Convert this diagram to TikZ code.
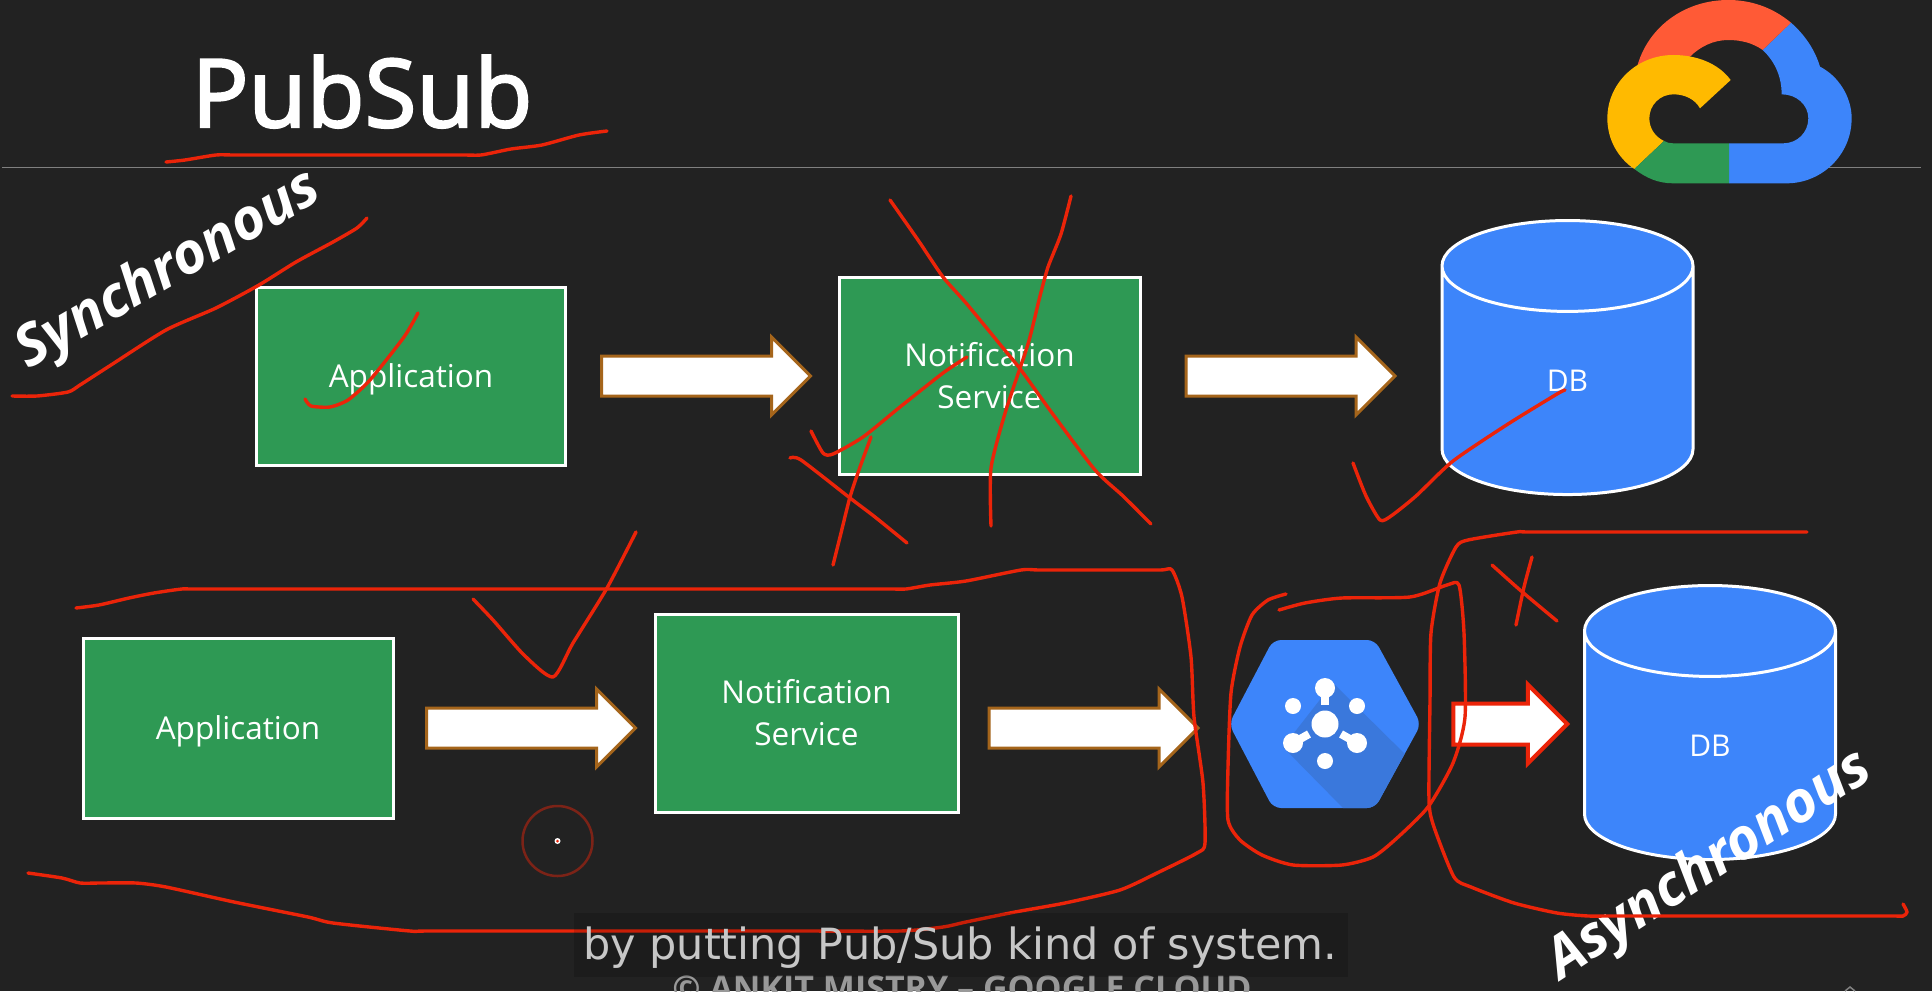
\documentclass[tikz,border=0pt]{standalone}
\usepackage{fontspec}
\setmainfont{Open Sans}
\newfontfamily\capfont{DejaVu Sans}
\newfontfamily\titlefont[FakeBold=2.5]{Open Sans}
\usetikzlibrary{shapes,arrows}

\definecolor{slidebg}{HTML}{222222}
\definecolor{boxgreen}{HTML}{2E9954}
\definecolor{dbblue}{HTML}{3D85FA}
\definecolor{shadeblue}{HTML}{3A78DC}
\definecolor{arrowbrown}{HTML}{A5651B}
\definecolor{inkred}{HTML}{EB2409}
\definecolor{logored}{HTML}{FF5A36}
\definecolor{logoyellow}{HTML}{FFBA00}

\begin{document}
\begin{tikzpicture}[x=1pt,y=-1pt,node distance=100pt,
  service/.style={rectangle, draw=white, line width=3pt, fill=boxgreen, text=white, inner sep=0pt, text centered, anchor=center, font=\fontsize{31.5}{42}\selectfont},
  store/.style={cylinder, shape border rotate=90, draw=white, line width=3pt, cylinder uses custom fill, cylinder body fill=dbblue, cylinder end fill=dbblue, text=white, inner sep=0pt, minimum width=251pt, minimum height=274pt, aspect=2.2, anchor=center, font=\fontsize{30}{34}\selectfont},
  flow/.style={single arrow, draw=arrowbrown, line width=3pt, fill=white, inner xsep=0pt, inner ysep=18.5pt, single arrow head extend=19pt, single arrow tip angle=90, single arrow head indent=0pt, anchor=center},
  line/.style={draw=inkred, line width=3.4pt, line join=round, line cap=round},
  slant/.style={text=white, inner sep=0pt, font=\fontsize{57}{60}\selectfont\bfseries\itshape}]
\useasboundingbox (0,0) rectangle (1932,991);
\fill [slidebg] (0,0) rectangle (1932,991);
\clip (0,0) rectangle (1932,991);

\draw [gray, line width=1pt] (2,167) -- (1921,167);
\node [text=white, inner sep=0pt, anchor=base, font=\titlefont\fontsize{94.5}{98}\selectfont] (title) at (362,127) {PubSub};

% logo
\begin{scope}[shift={(1590,0)},x=0.3333pt,y=-0.3333pt]
  \fill [dbblue] (603,68) .. controls (645,105) and (675,150) .. (690,200) .. controls (745,228) and (785,290) .. (785,355) .. controls (785,465) and (695,550) .. (590,550) -- (417,550) -- (417,430) -- (580,430) .. controls (622,430) and (655,397) .. (655,355) .. controls (655,315) and (620,283) .. (575,283) .. controls (575,230) and (555,185) .. (518,150) -- cycle;
  \fill [logored] (603,68) .. controls (545,20) and (480,0) .. (415,0) .. controls (280,0) and (170,85) .. (140,205) -- (300,170) .. controls (330,140) and (370,120) .. (415,120) .. controls (455,120) and (490,130) .. (518,150) -- cycle;
  \fill [logoyellow] (422,240) .. controls (385,190) and (320,165) .. (250,165) .. controls (140,165) and (52,250) .. (52,355) .. controls (52,420) and (85,475) .. (133,507) -- (222,423) .. controls (195,410) and (178,385) .. (178,355) .. controls (178,315) and (210,283) .. (250,283) .. controls (285,283) and (315,298) .. (330,325) -- cycle;
  \fill [boxgreen] (133,507) .. controls (170,535) and (205,550) .. (250,550) -- (417,550) -- (417,430) -- (250,430) .. controls (240,430) and (230,428) .. (222,423) -- cycle;
\end{scope}

% upper row
\node [service, text depth=0pt, minimum width=309pt, minimum height=178pt] (APPA) at (411,376) {Application};
\node [flow, right of=APPA, xshift=185pt, minimum height=209pt] (FLA) {};
\node [service, right of=APPA, xshift=478.5pt, minimum width=301pt, minimum height=197pt, text width=280pt] (NSA) {Notification \\ Service};
\node [flow, right of=NSA, xshift=191pt, minimum height=209pt] (FLB) {};
\node [store, right of=NSA, xshift=478pt, yshift=-5pt] (DBA) {DB};

% lower row
\node [service, text depth=0pt, minimum width=310pt, minimum height=180pt] (APPB) at (238,728) {Application};
\node [flow, right of=APPB, xshift=183pt, minimum height=209pt] (FLC) {};
\node [service, right of=APPB, xshift=468.5pt, yshift=15pt, minimum width=303pt, minimum height=198pt, text width=280pt] (NSB) {Notification \\ Service};
\node [flow, right of=NSB, xshift=177pt, yshift=-15pt, minimum height=209pt] (FLD) {};
\coordinate (PS) at (1325,724);
\node [flow, draw=inkred, line width=4pt, right of=PS, xshift=75pt, minimum height=114pt] (FLE) {};
\node [store, right of=FLE, xshift=110pt, yshift=-22pt] (DBB) {DB};

% pubsub icon
\begin{scope}[shift={(PS)}]
  \begin{scope}
    \clip [rounded corners=8pt] (-96,0) -- (-52,-84) -- (50,-84) -- (96,0) -- (50,84) -- (-52,84) -- cycle;
    \fill [dbblue] (-96,-90) rectangle (96,90);
    \fill [shadeblue] (8,-41) -- (88,38) -- (50,84) -- (18,84) -- (-42,23) -- cycle;
  \end{scope}
  \draw [white, line width=8pt] (0,-36) -- (0,-19);
  \draw [white, line width=8pt] (-32,19) -- (-16,10);
  \draw [white, line width=8pt] (32,19) -- (16,10);
  \fill [white] (0,0) circle (13.5);
  \fill [white] (0,-36) circle (10);
  \fill [white] (-32,19) circle (10);
  \fill [white] (32,19) circle (10);
  \fill [white] (-32,-18) circle (8);
  \fill [white] (32,-18) circle (8);
  \fill [white] (0,37) circle (8);
\end{scope}

% cursor
\node [circle, draw=inkred!45!slidebg, line width=2.5pt, minimum size=70pt, inner sep=0pt] (CUR) at (557.5,841) {};
\fill [white] (CUR.center) circle (3);
\fill [inkred] (CUR.center) circle (1.5);

\node [slant, rotate=30] (SYNC) at (169,271) {Synchronous};
\node [slant, rotate=33] (ASYNC) at (1710,866) {Asynchronous};

% pen strokes
\begin{scope}[every path/.style=line]
  \path plot [smooth, tension=0.4] coordinates {(166,162) (185,160) (216,155) (235,155) (308,155) (460,155) (481,155) (511,149) (542,145) (579,135) (607,131)};
  \path plot [smooth, tension=0.4] coordinates {(12,396) (37,396) (68,392) (80,385) (111,365) (166,330) (216,308) (259,285) (296,262) (333,242) (357,228) (367,218)};
  \path plot [smooth, tension=0.4] coordinates {(305,399) (311,406) (330,407) (348,400) (370,380) (404,337) (418,313)};
  \path plot [smooth, tension=0.4] coordinates {(890,200) (918,240) (943,277) (966,303) (1003,348) (1021,370) (1052,413) (1095,470) (1123,496) (1151,524)};
  \path plot [smooth, tension=0.4] coordinates {(1071,196) (1061,234) (1048,267) (1040,296) (1028,344) (1006,410) (991,468) (991,526)};
  \path plot [smooth, tension=0.4] coordinates {(811,431) (823,453) (833,454) (863,437) (900,407) (943,373) (967,357)};
  \path plot [smooth, tension=0.4] coordinates {(790,458) (801,460) (850,498) (875,517) (907,543)};
  \path plot [smooth, tension=0.4] coordinates {(871,437) (860,467) (850,497) (841,533) (833,565)};
  \path plot [smooth, tension=0.4] coordinates {(1353,463) (1366,496) (1380,520) (1391,516) (1416,496) (1453,461) (1508,424) (1557,394) (1565,390)};
  \path plot [smooth, tension=0.4] coordinates {(76,608) (99,605) (129,598) (154,593) (182,589) (200,589) (400,589) (600,589) (800,589) (890,589) (906,589) (930,585) (966,581) (1021,570) (1040,570) (1100,570) (1160,570) (1172,570) (1182,597) (1191,657) (1194,717) (1203,783) (1205,843) (1197,853) (1157,873) (1120,890) (1065,903) (1015,912) (966,922) (943,927) (900,931) (800,931) (600,931) (430,931) (410,931) (333,923) (308,917) (234,902) (166,887) (136,883) (100,883) (80,883) (62,878) (28,873)};
  \path plot [smooth, tension=0.4] coordinates {(1286,594) (1268,600) (1252,615) (1240,647) (1231,693) (1228,767) (1228,820) (1240,840) (1262,855) (1293,865) (1342,865) (1373,857) (1397,838) (1428,807) (1453,763) (1465,717) (1464,633) (1459,585) (1447,585) (1410,597) (1342,598) (1305,603) (1279,610)};
  \path plot [smooth, tension=0.4] coordinates {(1807,532) (1790,532) (1650,532) (1530,532) (1517,532) (1468,540) (1456,547) (1440,583) (1431,633) (1430,700) (1429,800) (1434,827) (1454,877) (1471,887) (1514,903) (1557,913) (1588,916) (1610,916) (1750,916) (1890,916) (1903,916) (1907,912) (1903,904)};
  \path plot [smooth, tension=0.4] coordinates {(1492,565) (1520,590) (1557,621)};
  \path plot [smooth, tension=0.4] coordinates {(1532,557) (1524,587) (1516,625)};
  \path plot [smooth, tension=0.4] coordinates {(473,599) (493,620) (524,655) (553,677) (573,643) (607,588) (636,532)};
\end{scope}

% caption
\node [text=gray!80!white, inner sep=0pt, anchor=base, font=\fontsize{34}{38}\selectfont\bfseries] (MARK) at (962,1000) {© ANKIT MISTRY – GOOGLE CLOUD};
\fill [black, opacity=0.15] (574,913) rectangle (1348,977);
\node [text=black!22!white, inner sep=0pt, anchor=base, font=\capfont\fontsize{43}{48}\selectfont] (CAPTION) at (960,959) {by putting Pub/Sub kind of system.};
\draw [gray, line width=1.5pt] (1845,991) -- (1850,987) -- (1855,991);
\end{tikzpicture}
\end{document}
